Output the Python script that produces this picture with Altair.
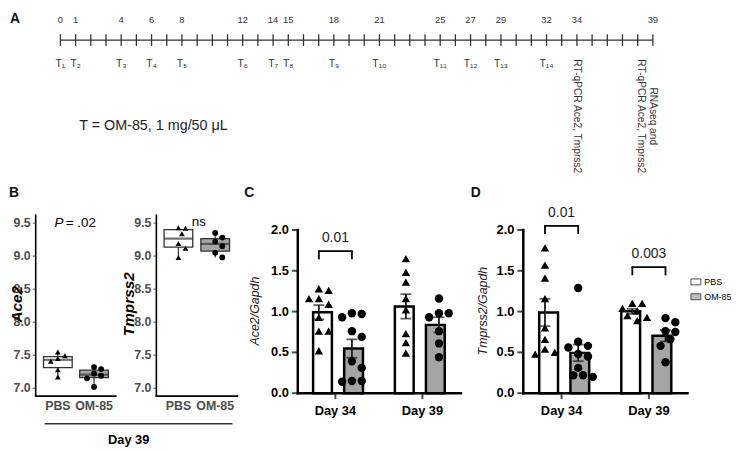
import altair as alt
import pandas as pd

# ---------------- data ----------------
# Panel A: treatment timeline (days)
day_ticks = list(range(0, 40))
day_numbers = [0, 1, 4, 6, 8, 12, 14, 15, 18, 21, 25, 27, 29, 32, 34, 39]
dose_days = [0, 1, 4, 6, 8, 12, 14, 15, 18, 21, 25, 27, 29, 32]
dose_labels = ["T₁", "T₂", "T₃", "T₄", "T₅", "T₆", "T₇", "T₈", "T₉",
               "T₁₀", "T₁₁", "T₁₂", "T₁₃", "T₁₄"]
readout_days = [34, 39]
readout_labels = ["RT-qPCR Ace2, Tmprss2", "RNAseq and\nRT-qPCR Ace2, Tmprss2"]
dose_note = "T = OM-85, 1 mg/50 μL"

groups = ["PBS", "OM-85"]
group_shapes = ["triangle-up", "circle"]

# Panel B: RNAseq expression, day 39
ace2_seq_pbs = [7.55, 7.49, 7.45, 7.41, 7.28, 7.17]
ace2_seq_om85 = [7.32, 7.29, 7.22, 7.19, 7.15, 7.02]
tmprss2_seq_pbs = [9.43, 9.42, 9.34, 9.19, 9.12, 8.98]
tmprss2_seq_om85 = [9.35, 9.28, 9.22, 9.15, 9.05, 8.98]
seq_ticks = [7.0, 7.5, 8.0, 8.5, 9.0, 9.5]
seq_xlabels = ["PBS", "OM-85"]

# Panels C and D: RT-qPCR relative expression
days = ["Day 34", "Day 39"]
ace2_d34_pbs = [1.28, 1.26, 1.16, 1.16, 1.09, 0.93, 0.76, 0.76, 0.52]
ace2_d34_om85 = [0.98, 0.97, 0.93, 0.76, 0.69, 0.39, 0.31, 0.15, 0.14, 0.15]
ace2_d39_pbs = [1.65, 1.48, 1.36, 1.16, 1.02, 0.73, 0.62, 0.49]
ace2_d39_om85 = [1.16, 0.98, 0.98, 0.93, 0.76, 0.61, 0.44]
tmprss2_d34_pbs = [1.78, 1.57, 1.41, 1.16, 0.80, 0.66, 0.54, 0.50, 0.48]
tmprss2_d34_om85 = [1.29, 0.63, 0.58, 0.56, 0.48, 0.45, 0.31, 0.22, 0.20, 0.22]
tmprss2_d39_pbs = [1.10, 1.10, 1.04, 1.01, 0.95, 0.93, 0.89]
tmprss2_d39_om85 = [0.92, 0.87, 0.76, 0.75, 0.66, 0.58, 0.38]
qpcr_ticks = [0.0, 0.5, 1.0, 1.5, 2.0]

# significance annotations: panel, day, label, bracket height
sig_panel = ["C", "D", "D"]
sig_day = ["Day 34", "Day 34", "Day 39"]
sig_label = ["0.01", "0.01", "0.003"]
sig_height = [1.74, 2.05, 1.545]

# ---------------- layout helpers ----------------
M = 8            # page margin; layout numbers below are page pixels
W, H = 731, 443
FONT = "Liberation Sans"
GRAY_FILL = "#a5a5a5"
DODGE = 0.38     # bar dodge within a day group (group units)

FILL = alt.Scale(domain=groups, range=["white", GRAY_FILL])
LEG = alt.Legend(orient="none", legendX=698 - M, legendY=277 - M, title=None,
                 symbolType="M-1,-0.6H1V0.6H-1Z", symbolSize=100,
                 symbolStrokeColor="black", symbolStrokeWidth=1,
                 labelFontSize=9, labelFont=FONT, labelOffset=3, rowPadding=4)


def P(v):
    return v - M


def lin(domain, rng):
    return alt.Scale(domain=list(domain), range=[P(r) for r in rng], nice=False, zero=False)


def swarm(vals, ppu, diam):
    """Deterministic beeswarm: horizontal pixel offsets so markers do not overlap."""
    order = sorted(range(len(vals)), key=lambda i: -vals[i])
    placed, offs = [], [0.0] * len(vals)
    cands = [0.0]
    for k in range(1, 12):
        cands += [k * diam * 0.55, -k * diam * 0.55]
    for i in order:
        yy = vals[i] * ppu
        for c in cands:
            if all((c - a) ** 2 + (yy - b) ** 2 >= (0.95 * diam) ** 2 for a, b in placed):
                offs[i] = c
                placed.append((c, yy))
                break
    return offs


def note(txt, x, y, **kw):
    return alt.Chart(pd.DataFrame({"t": [txt]})).mark_text(font=FONT, **kw).encode(
        x=alt.value(P(x)), y=alt.value(P(y)), text="t:N")


def scatter(df, xenc, yenc, size):
    """One point layer per group so each group gets its own marker shape."""
    out = []
    for treat, shp in zip(groups, group_shapes):
        out.append(alt.Chart(df).transform_filter(alt.datum.treat == treat).mark_point(
            filled=True, shape=shp, size=size, opacity=1, color="black").encode(x=xenc, y=yenc))
    return out


layers = []

# ---------------- Panel A ----------------
xA = lin([0, 39], [61, 660])
dfA = pd.DataFrame({"day": day_ticks})
layers.append(alt.Chart(dfA).mark_rule(color="#333", strokeWidth=1.4).encode(
    x=alt.X("min(day):Q", scale=xA, axis=None), x2="max(day):Q", y=alt.value(P(38))))
layers.append(alt.Chart(dfA).mark_rule(color="#333", strokeWidth=1.3).encode(
    x=alt.X("day:Q", scale=xA, axis=None), y=alt.value(P(32)), y2=alt.value(P(44))))
layers.append(alt.Chart(pd.DataFrame({"day": day_numbers})).mark_text(
    font=FONT, fontSize=9.5, color="#333").encode(
    x=alt.X("day:Q", scale=xA, axis=None), y=alt.value(P(18)), text="day:Q"))
layers.append(alt.Chart(pd.DataFrame({"day": dose_days, "lab": dose_labels})).mark_text(
    font=FONT, fontSize=10.5, color="#333").encode(
    x=alt.X("day:Q", scale=xA, axis=None), y=alt.value(P(62)), text="lab:N"))
layers.append(alt.Chart(pd.DataFrame({"day": readout_days, "lab": readout_labels})).mark_text(
    font=FONT, fontSize=10.3, angle=90, lineBreak="\n", lineHeight=12, color="#333").encode(
    x=alt.X("day:Q", scale=xA, axis=None), y=alt.value(P(115)), text="lab:N"))
layers.append(note(dose_note, 80, 125, align="left", fontSize=14.5, color="#222"))

# panel letters
for ch, lx, ly in [("A", 15, 17), ("B", 14, 193), ("C", 252, 193), ("D", 481, 193)]:
    layers.append(note(ch, lx, ly, fontSize=14, fontWeight="bold", color="#111"))

# ---------------- Panel B ----------------
B_Y = [6.88, 9.62]
yB = lin(B_Y, [398, 215])
ppuB = (398 - 215) / (B_Y[1] - B_Y[0])


def box_panel(pbs, om, ax_x, centers, x_end, title, title_x):
    c0, c1 = centers
    ppx = c1 - c0
    lo = (ax_x - c0) / ppx
    hi = 1 + (x_end - c1) / ppx
    xq = lin([lo, hi], [ax_x, x_end])
    xn = alt.Scale(type="point", domain=groups, range=[P(c0), P(c1)], padding=0)
    rows = []
    for s, (treat, vals) in enumerate(zip(groups, [pbs, om])):
        for v, o in zip(vals, swarm(vals, ppuB, 6.5)):
            rows.append(dict(treat=treat, val=v, xpt=s + o / ppx))
    df = pd.DataFrame(rows)
    out = []
    out.append(alt.Chart(df).mark_boxplot(
        size=29, extent=1.5, outliers=False,
        box={"stroke": "#333", "strokeWidth": 1.3},
        median={"color": "#333", "thickness": 2.2},
        rule={"color": "#333", "strokeWidth": 1.2}).encode(
        x=alt.X("treat:N", scale=xn, axis=None),
        y=alt.Y("val:Q", scale=yB, axis=None),
        color=alt.Color("treat:N", scale=FILL, legend=LEG)))
    out += scatter(df, alt.X("xpt:Q", scale=xq, axis=None), alt.Y("val:Q", scale=yB, axis=None), 34)
    # axes
    out.append(alt.Chart(pd.DataFrame({"x": [lo], "a": [B_Y[0]], "b": [B_Y[1]]})).mark_rule(
        color="black", strokeWidth=1.6, strokeCap="square").encode(
        x=alt.X("x:Q", scale=xq, axis=None), y=alt.Y("a:Q", scale=yB, axis=None), y2="b:Q"))
    out.append(alt.Chart(pd.DataFrame({"a": [lo], "b": [hi], "y": [B_Y[0]]})).mark_rule(
        color="black", strokeWidth=1.6, strokeCap="square").encode(
        x=alt.X("a:Q", scale=xq, axis=None), x2="b:Q", y=alt.Y("y:Q", scale=yB, axis=None)))
    dft = pd.DataFrame({"v": seq_ticks, "x": lo})
    out.append(alt.Chart(dft).mark_tick(orient="horizontal", size=3, thickness=1.2,
                                        xOffset=-1.5, color="#333").encode(
        x=alt.X("x:Q", scale=xq, axis=None), y=alt.Y("v:Q", scale=yB, axis=None)))
    out.append(alt.Chart(dft).mark_text(font=FONT, align="right", dx=-5, fontSize=12.5,
                                        fontWeight="bold", color="#4d4d4d").encode(
        x=alt.X("x:Q", scale=xq, axis=None), y=alt.Y("v:Q", scale=yB, axis=None),
        text=alt.Text("v:Q", format=".1f")))
    out.append(alt.Chart(pd.DataFrame({"s": [0, 1], "lab": seq_xlabels, "y": B_Y[0]})).mark_text(
        font=FONT, dy=9.5, fontSize=12.5, fontWeight="bold", color="#4d4d4d").encode(
        x=alt.X("s:Q", scale=xq, axis=None), y=alt.Y("y:Q", scale=yB, axis=None), text="lab:N"))
    out.append(note(title, title_x, 305, angle=270, fontSize=15.5, fontStyle="italic",
                    fontWeight="bold", color="black"))
    return out


layers += box_panel(ace2_seq_pbs, ace2_seq_om85, 36, (58.4, 95.0), 117, "Ace2", 17)
layers += box_panel(tmprss2_seq_pbs, tmprss2_seq_om85, 158, (180.3, 217.5), 240, "Tmprss2", 130)
layers.append(note("P", 55, 223, align="left", fontSize=13.5, fontStyle="italic", color="black"))
layers.append(note("= .02", 66.5, 223, align="left", fontSize=13.5, color="black"))
layers.append(note("ns", 201, 222, fontSize=13.5, color="black"))
layers.append(alt.Chart(pd.DataFrame({"t": ["Day 39"]})).mark_rule(color="#333", strokeWidth=1.5).encode(
    x=alt.value(P(45)), x2=alt.value(P(235)), y=alt.value(P(426))))
layers.append(note("Day 39", 130, 442, fontSize=13, fontWeight="bold", color="black"))


# ---------------- Panels C and D ----------------
def bar_panel(panel, series, ax_x, centers, x_end, y0, y2, title, title_x):
    c0, c1 = centers
    ppx = c1 - c0
    lo = (ax_x - c0) / ppx
    hi = 1 + (x_end - c1) / ppx
    xs = lin([lo, hi], [ax_x, x_end])
    ys = lin([0, 2], [y0, y2])
    ppu = (y0 - y2) / 2
    rows = []
    for g, day in enumerate(days):
        for t, treat in enumerate(groups):
            vals = series[(day, treat)]
            xb = g + (t - 0.5) * DODGE
            for v, o in zip(vals, swarm(vals, ppu, 9.0)):
                rows.append(dict(day=day, treat=treat, val=v, xbar=xb, xpt=xb + o / ppx))
    df = pd.DataFrame(rows)
    X = lambda f: alt.X(f, scale=xs, axis=None)
    Y = lambda f: alt.Y(f, scale=ys, axis=None)
    out = []
    out.append(alt.Chart(df).mark_bar(size=19, stroke="black", strokeWidth=2.5, orient="vertical").encode(
        x=X("xbar:Q"), y=Y("mean(val):Q"),
        color=alt.Color("treat:N", scale=FILL, legend=LEG)))
    out.append(alt.Chart(df).mark_errorbar(extent="stderr", ticks=True, size=11, thickness=1.8,
                                           color="#1a1a1a", orient="vertical").encode(
        x=X("xbar:Q"), y=Y("val:Q")))
    out += scatter(df, X("xpt:Q"), Y("val:Q"), 72)
    # axes
    out.append(alt.Chart(pd.DataFrame({"x": [lo], "a": [0.0], "b": [2.0]})).mark_rule(
        color="black", strokeWidth=2.5, strokeCap="square").encode(x=X("x:Q"), y=Y("a:Q"), y2="b:Q"))
    out.append(alt.Chart(pd.DataFrame({"a": [lo], "b": [hi], "y": [0.0]})).mark_rule(
        color="black", strokeWidth=2.5, strokeCap="square").encode(x=X("a:Q"), x2="b:Q", y=Y("y:Q")))
    dft = pd.DataFrame({"v": qpcr_ticks, "x": lo})
    out.append(alt.Chart(dft).mark_tick(orient="horizontal", size=6, thickness=2, xOffset=-3,
                                        color="black").encode(x=X("x:Q"), y=Y("v:Q")))
    out.append(alt.Chart(dft).mark_text(font=FONT, align="right", dx=-9, fontSize=13,
                                        fontWeight="bold", color="black").encode(
        x=X("x:Q"), y=Y("v:Q"), text=alt.Text("v:Q", format=".1f")))
    dfx = pd.DataFrame({"g": [0, 1], "lab": days, "y": 0.0})
    out.append(alt.Chart(dfx).mark_tick(orient="vertical", size=6, thickness=2, yOffset=3,
                                        color="black").encode(x=X("g:Q"), y=Y("y:Q")))
    out.append(alt.Chart(dfx).mark_text(font=FONT, dy=18, fontSize=13, fontWeight="bold",
                                        color="black").encode(x=X("g:Q"), y=Y("y:Q"), text="lab:N"))
    out.append(note(title, title_x, 312, angle=270, fontSize=12.5, fontStyle="italic", color="#1a1a1a"))
    # significance brackets
    sel = [i for i, p in enumerate(sig_panel) if p == panel]
    if sel:
        gi = [days.index(sig_day[i]) for i in sel]
        hts = [sig_height[i] for i in sel]
        labs = [sig_label[i] for i in sel]
        drop = 0.1
        br = pd.DataFrame({"a": [g - DODGE / 2 for g in gi], "b": [g + DODGE / 2 for g in gi],
                           "h": hts, "g": gi, "lab": labs})
        legs = pd.DataFrame({"x": [g - DODGE / 2 for g in gi] + [g + DODGE / 2 for g in gi],
                             "h": hts * 2, "hl": [h - drop for h in hts] * 2})
        out.append(alt.Chart(br).mark_rule(color="black", strokeWidth=1.8, strokeCap="square").encode(
            x=X("a:Q"), x2="b:Q", y=Y("h:Q")))
        out.append(alt.Chart(legs).mark_rule(color="black", strokeWidth=1.8).encode(
            x=X("x:Q"), y=Y("h:Q"), y2="hl:Q"))
        out.append(alt.Chart(br).mark_text(font=FONT, dy=-13, fontSize=14, color="#1a1a1a").encode(
            x=X("g:Q"), y=Y("h:Q"), text="lab:N"))
    return out


ace2_series = {("Day 34", "PBS"): ace2_d34_pbs, ("Day 34", "OM-85"): ace2_d34_om85,
               ("Day 39", "PBS"): ace2_d39_pbs, ("Day 39", "OM-85"): ace2_d39_om85}
tmprss2_series = {("Day 34", "PBS"): tmprss2_d34_pbs, ("Day 34", "OM-85"): tmprss2_d34_om85,
                  ("Day 39", "PBS"): tmprss2_d39_pbs, ("Day 39", "OM-85"): tmprss2_d39_om85}

layers += bar_panel("C", ace2_series, 301, (339, 427), 466, 395, 230, "Ace2/Gapdh", 258)
layers += bar_panel("D", tmprss2_series, 529, (567.7, 656), 695, 395, 230, "Tmprss2/Gapdh", 488)

chart = alt.layer(*layers).resolve_scale(x="independent", y="independent").properties(
    width=W, height=H, autosize=alt.AutoSizeParams(type="none"), padding=0
).configure(font=FONT, background="white").configure_view(strokeWidth=0)

chart.save("out.html", embed_options={"renderer": "svg", "actions": False})
